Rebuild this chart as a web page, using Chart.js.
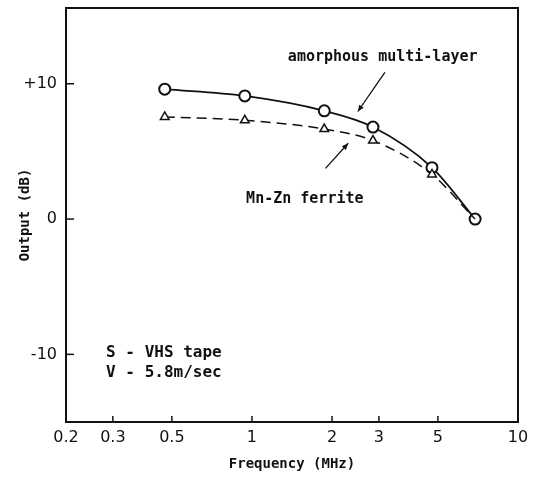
<!DOCTYPE html>
<html>
<head>
<meta charset="utf-8">
<script src="https://cdn.jsdelivr.net/npm/chart.js@4.4.1/dist/chart.umd.min.js"></script>
<style>
  html, body { margin: 0; padding: 0; background: #fff; }
  #wrap { width: 536px; height: 479px; }
</style>
</head>
<body>
<div id="wrap"><canvas id="outputChart" width="536" height="479"></canvas></div>
<script>
// values
const freq = [0.47, 0.94, 1.87, 2.85, 4.75, 6.9];
const amorphous = [9.6, 9.1, 8.0, 6.8, 3.8, 0.0];
const ferrite = [7.55, 7.3, 6.65, 5.8, 3.3, 0.0];

const xTicks = [0.2, 0.3, 0.5, 1, 2, 3, 5, 10];
const xTickLabels = ['0.2', '0.3', '0.5', '1', '2', '3', '5', '10'];
const yTicks = [-10, 0, 10];
const yTickLabels = ['-10', '0', '+10'];

const ink = '#111';
const monoBold = '"DejaVu Sans Mono", "Liberation Mono", monospace';

// labels and arrows, placed in data units
const notes = [
    { text: 'amorphous multi-layer', x: 3.1, y: 11.95, align: 'center', size: 15 },
    { text: 'Mn-Zn ferrite', x: 1.58, y: 1.5, align: 'center', size: 15 },
    { text: 'S - VHS tape', x: 0.283, y: -9.9, align: 'left', size: 16 },
    { text: 'V - 5.8m/sec', x: 0.283, y: -11.35, align: 'left', size: 16 }
];
const arrows = [
    { from: [3.16, 10.85], to: [2.5, 7.95] },
    { from: [1.89, 3.75], to: [2.3, 5.6] }
];

const framePlugin = {
    id: 'frame',
    afterDraw(chart) {
        const { ctx, chartArea: a, scales } = chart;
        ctx.save();
        ctx.strokeStyle = ink;
        ctx.lineWidth = 2;
        ctx.strokeRect(a.left, a.top, a.right - a.left, a.bottom - a.top);

        // inward tick marks
        ctx.lineWidth = 1.5;
        xTicks.forEach(v => {
            if (v === xTicks[0] || v === xTicks[xTicks.length - 1]) return;
            const px = scales.x.getPixelForValue(v);
            ctx.beginPath();
            ctx.moveTo(px, a.bottom);
            ctx.lineTo(px, a.bottom - 6);
            ctx.stroke();
        });
        yTicks.forEach(v => {
            const py = scales.y.getPixelForValue(v);
            ctx.beginPath();
            ctx.moveTo(a.left, py);
            ctx.lineTo(a.left + 8, py);
            ctx.stroke();
        });

        // annotations
        ctx.fillStyle = ink;
        ctx.textBaseline = 'middle';
        notes.forEach(n => {
            ctx.font = 'bold ' + n.size + 'px ' + monoBold;
            ctx.textAlign = n.align;
            ctx.fillText(n.text, scales.x.getPixelForValue(n.x), scales.y.getPixelForValue(n.y));
        });

        ctx.lineWidth = 1.3;
        arrows.forEach(ar => {
            const x1 = scales.x.getPixelForValue(ar.from[0]);
            const y1 = scales.y.getPixelForValue(ar.from[1]);
            const x2 = scales.x.getPixelForValue(ar.to[0]);
            const y2 = scales.y.getPixelForValue(ar.to[1]);
            ctx.beginPath();
            ctx.moveTo(x1, y1);
            ctx.lineTo(x2, y2);
            ctx.stroke();
            const ang = Math.atan2(y2 - y1, x2 - x1);
            ctx.beginPath();
            ctx.moveTo(x2, y2);
            ctx.lineTo(x2 - 7 * Math.cos(ang - 0.4), y2 - 7 * Math.sin(ang - 0.4));
            ctx.lineTo(x2 - 7 * Math.cos(ang + 0.4), y2 - 7 * Math.sin(ang + 0.4));
            ctx.closePath();
            ctx.fill();
        });
        ctx.restore();
    }
};

const ctx = document.getElementById('outputChart').getContext('2d');
const chart = new Chart(ctx, {
    type: 'line',
    data: {
        datasets: [{
            label: 'Mn-Zn ferrite',
            data: freq.map((f, i) => ({ x: f, y: ferrite[i] })),
            borderColor: ink,
            borderWidth: 1.5,
            borderDash: [10, 6],
            cubicInterpolationMode: 'monotone',
            pointStyle: 'triangle',
            pointRadius: [5, 5, 5, 5, 5, 0],
            pointBorderWidth: 1.5,
            pointBorderColor: ink,
            pointBackgroundColor: '#fff',
            fill: false
        }, {
            label: 'amorphous multi-layer',
            data: freq.map((f, i) => ({ x: f, y: amorphous[i] })),
            borderColor: ink,
            borderWidth: 1.8,
            cubicInterpolationMode: 'monotone',
            pointStyle: 'circle',
            pointRadius: 5.5,
            pointBorderWidth: 2,
            pointBorderColor: ink,
            pointBackgroundColor: '#fff',
            fill: false
        }]
    },
    options: {
        responsive: false,
        animation: false,
        layout: { padding: { top: 8, right: 18, bottom: 0, left: 0 } },
        plugins: {
            legend: { display: false },
            tooltip: { enabled: false }
        },
        scales: {
            x: {
                type: 'logarithmic',
                min: 0.2,
                max: 10,
                afterBuildTicks: scale => { scale.ticks = xTicks.map(v => ({ value: v })); },
                afterFit: scale => { scale.height = 57; },
                grid: { display: false, drawTicks: false },
                border: { display: false },
                ticks: {
                    color: ink,
                    padding: 6,
                    maxRotation: 0,
                    autoSkip: false,
                    font: { family: '"DejaVu Sans", sans-serif', size: 16 },
                    callback: v => xTickLabels[xTicks.indexOf(v)]
                },
                title: {
                    display: true,
                    text: 'Frequency (MHz)',
                    color: ink,
                    padding: { top: 0, bottom: 6 },
                    font: { family: monoBold, size: 14, weight: 'bold' }
                }
            },
            y: {
                min: -15,
                max: 15.6,
                afterBuildTicks: scale => { scale.ticks = yTicks.map(v => ({ value: v })); },
                afterFit: scale => {
                    scale.width = 66;
                    scale.paddingTop = 0;
                    scale.paddingBottom = 0;
                },
                grid: { display: false, drawTicks: false },
                border: { display: false },
                ticks: {
                    color: ink,
                    padding: 9,
                    font: { family: '"DejaVu Sans", sans-serif', size: 16 },
                    callback: v => yTickLabels[yTicks.indexOf(v)]
                },
                title: {
                    display: true,
                    text: 'Output (dB)',
                    color: ink,
                    padding: { top: 17, bottom: 0 },
                    font: { family: monoBold, size: 14, weight: 'bold' }
                }
            }
        }
    },
    plugins: [framePlugin]
});
</script>
</body>
</html>
